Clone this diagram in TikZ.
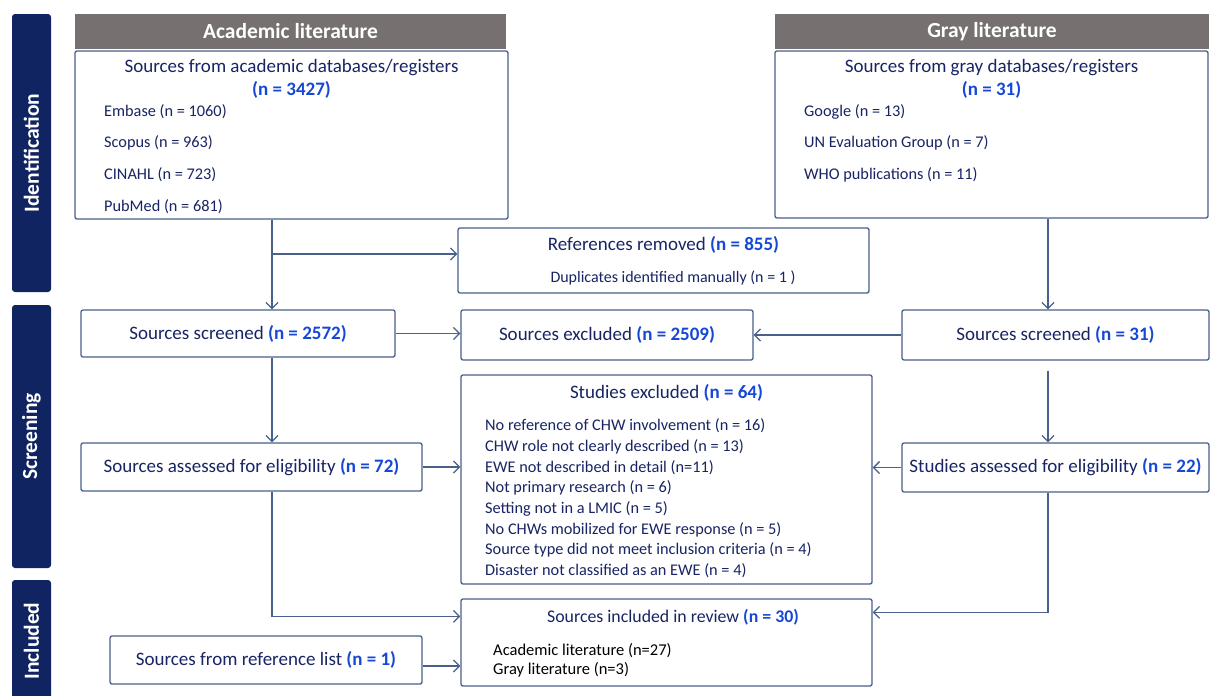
\documentclass[tikz,border=0pt]{standalone}
\usepackage{fontspec}
\setmainfont{Carlito}
\usetikzlibrary{arrows.meta}
\definecolor{navy}{RGB}{16,36,97}
\definecolor{headgray}{RGB}{118,113,112}
\definecolor{boxline}{RGB}{72,96,138}
\definecolor{txtnavy}{RGB}{24,36,100}
\definecolor{nblue}{RGB}{22,72,214}
\newcommand{\nval}[1]{\textbf{\color{nblue}#1}}
\begin{document}
\begin{tikzpicture}[x=1pt, y=-1pt,
    every node/.style={font=\fontsize{19}{22}\selectfont, text=txtnavy, inner sep=0pt},
    box/.style={draw=boxline, line width=1.3pt, rounded corners=2pt, fill=white},
    phase/.style={fill=navy, rounded corners=3pt},
    phasetxt/.style={rotate=90, text=white, font=\fontsize{21.5}{24}\selectfont\bfseries},
    head/.style={fill=headgray, text=white, font=\fontsize{21.5}{24}\selectfont\bfseries},
    item/.style={anchor=west, font=\fontsize{16.3}{19}\selectfont},
    arr/.style={draw=boxline, line width=1.3pt, -{Straight Barb[length=6pt,width=12pt]}}]
  \useasboundingbox (0,0) rectangle (1211,696);
  % phases
  \node[phase, minimum width=39pt, minimum height=278pt] (pid) at (31.5,153) {};
  \node[phasetxt] at (pid) {Identification};
  \node[phase, minimum width=39pt, minimum height=263pt] (psc) at (31.5,436.5) {};
  \node[phasetxt] at (psc) {Screening};
  \node[phase, minimum width=39pt, minimum height=140pt] (pin) at (31.5,650) {};
  \node[phasetxt] at (31.5,641) {Included};
  % headers
  \node[head, minimum width=431pt, minimum height=35pt] (hacad) at (290.5,31.5) {Academic literature};
  \node[head, minimum width=434pt, minimum height=35pt] (hgray) at (992,31.5) {Gray literature};
  % identification boxes
  \node[box, minimum width=433pt, minimum height=168pt] (acad) at (291.5,135) {};
  \node (acadt) at (291.5,68) {Sources from academic databases/registers};
  \node (acadn) at (291.5,90) {\nval{(n = 3427)}};
  \foreach \y/\t in {112/Embase (n = 1060), 143/Scopus (n = 963), 175/CINAHL (n = 723), 207/PubMed (n = 681)}
    \node[item] at (104,\y) {\t};
  \node[box, minimum width=433pt, minimum height=167pt] (gray) at (991.5,134.5) {};
  \node (grayt) at (991.5,68) {Sources from gray databases/registers};
  \node (grayn) at (991.5,90) {\nval{(n = 31)}};
  \foreach \y/\t in {112/Google (n = 13), 143/UN Evaluation Group (n = 7), 175/WHO publications (n = 11)}
    \node[item] at (804,\y) {\t};
  \node[box, minimum width=411pt, minimum height=65pt] (refs) at (663.5,260.5) {};
  \node at (663.5,245) {References removed \nval{(n = 855)}};
  \node[font=\fontsize{16}{19}\selectfont] at (673,278) {Duplicates identified manually (n = 1 )};
  % screening boxes
  \node[box, minimum width=314pt, minimum height=47pt] (scrL) at (238,333.5) {Sources screened \nval{(n = 2572)}};
  \node[box, minimum width=292pt, minimum height=50pt] (excl) at (607,335) {Sources excluded \nval{(n = 2509)}};
  \node[box, minimum width=307pt, minimum height=50pt] (scrR) at (1055.5,335) {Sources screened \nval{(n = 31)}};
  \node[box, minimum width=341pt, minimum height=48pt] (assL) at (251.5,467) {Sources assessed for eligibility \nval{(n = 72)}};
  \node[box, minimum width=307pt, minimum height=49pt] (assR) at (1055.5,467.5) {Studies assessed for eligibility \nval{(n = 22)}};
  \node[box, minimum width=411pt, minimum height=209pt] (studx) at (666.5,479.5) {};
  \node at (666.5,393) {Studies excluded \nval{(n = 64)}};
  \foreach \t [count=\i from 0] in {No reference of CHW involvement (n = 16), CHW role not clearly described (n = 13),
      EWE not described in detail (n=11), Not primary research (n = 6), Setting not in a LMIC (n = 5),
      No CHWs mobilized for EWE response (n = 5), Source type did not meet inclusion criteria (n = 4),
      Disaster not classified as an EWE (n = 4)}
    \node[item] at (485,426+20.7*\i) {\t};
  % included boxes
  \node[box, minimum width=411pt, minimum height=87pt] (incl) at (666.5,642.5) {};
  \node[font=\fontsize{17.8}{20}\selectfont] at (673,617) {Sources included in review \nval{(n = 30)}};
  \node[item, text=black, font=\fontsize{16.5}{19}\selectfont] at (493,651) {Academic literature (n=27)};
  \node[item, text=black, font=\fontsize{16.5}{19}\selectfont] at (493,670) {Gray literature (n=3)};
  \node[box, minimum width=312pt, minimum height=48pt] (refl) at (266,660) {Sources from reference list \nval{(n = 1)}};
  % connectors
  \coordinate (lcol) at (272,0);
  \coordinate (rcol) at (1048,0);
  \draw[arr] (acad.south -| lcol) -- (scrL.north -| lcol);
  \draw[arr] (lcol |- 0,254) -- (refs.west |- 0,254);
  \draw[arr] (gray.south -| rcol) -- (scrR.north -| rcol);
  \draw[arr] (scrL.east) -- (scrL.east -| excl.west);
  \draw[arr] (scrR.west) -- (scrR.west -| excl.east);
  \draw[arr] (scrL.south -| lcol) -- (assL.north -| lcol);
  \draw[arr, shorten <=10pt] (scrR.south -| rcol) -- (assR.north -| rcol);
  \draw[arr] (assL.east) -- (assL.east -| studx.west);
  \draw[arr] (assR.west) -- (assR.west -| studx.east);
  \draw[arr] (assL.south -| lcol) |- ([yshift=-18pt]incl.north west);
  \draw[arr] (assR.south -| rcol) |- ([yshift=-14pt]incl.north east);
  \draw[arr] ([yshift=-6pt]refl.east) -- ([yshift=-6pt]refl.east -| incl.west);
\end{tikzpicture}
\end{document}
